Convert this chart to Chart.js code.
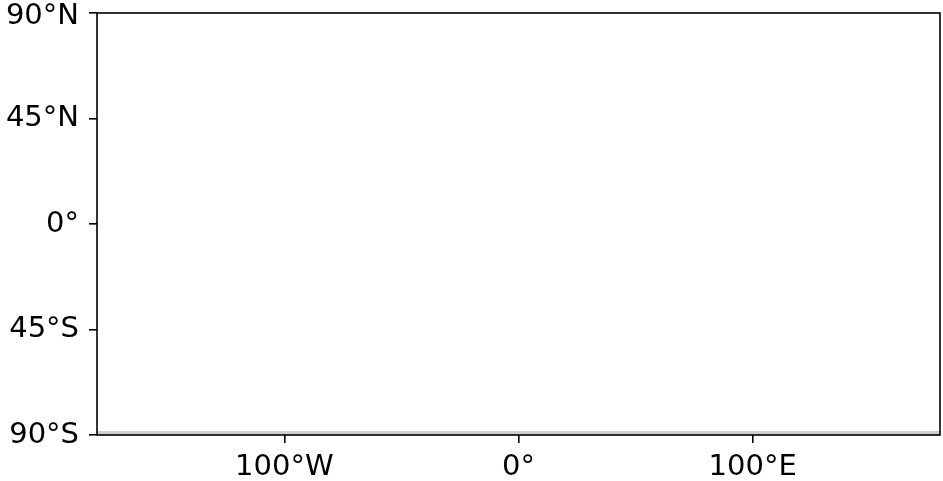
<!DOCTYPE html>
<html><head><meta charset="utf-8">
<script src="https://cdn.jsdelivr.net/npm/chart.js@4/dist/chart.umd.min.js"></script>
<style>html,body{margin:0;padding:0;background:#fff}#wrap{width:943px;height:481px}</style>
</head><body><div id="wrap"><canvas id="c" width="943" height="481"></canvas></div>
<script>
const lonTicks = [-100, 0, 100];
const lonTickLabels = ['100°W', '0°', '100°E'];
const latTicks = [-90, -45, 0, 45, 90];
const latTickLabels = ['90°S', '45°S', '0°', '45°N', '90°N'];
const landLon = [-180, 180];
const landLat = [-88.3, -88.3];

const frame = {
  id: 'frame',
  afterDatasetsDraw(chart) {
    const {ctx, chartArea: a} = chart;
    ctx.save();
    ctx.strokeStyle = '#000';
    ctx.lineWidth = 1.6;
    ctx.strokeRect(a.left, a.top, a.right - a.left, a.bottom - a.top);
    ctx.restore();
  }
};

new Chart(document.getElementById('c'), {
  type: 'scatter',
  data: {
    datasets: [{
      data: landLon.map((x, i) => ({x, y: landLat[i]})),
      showLine: true,
      borderColor: '#c8c8c8',
      borderWidth: 0,
      backgroundColor: '#cfcfcf',
      fill: 'start',
      pointRadius: 0
    }]
  },
  options: {
    responsive: false,
    animation: false,
    events: [],
    layout: {padding: {top: 13, right: 3, left: 0, bottom: 0}},
    plugins: {legend: {display: false}, tooltip: {enabled: false}, filler: {propagate: false}},
    scales: {
      x: {
        type: 'linear', min: -180, max: 180,
        afterBuildTicks(s) { s.ticks = lonTicks.map(v => ({value: v})); },
        afterFit(s) { s.height = 46; s.paddingLeft = 0; s.paddingRight = 0; },
        grid: {drawOnChartArea: false, drawTicks: true, tickLength: 8, color: '#000', lineWidth: 1.6},
        border: {display: false},
        ticks: {
          color: '#000', padding: 7, maxRotation: 0, autoSkip: false,
          font: {family: 'DejaVu Sans', size: 29},
          callback(v) { const i = lonTicks.indexOf(v); return i >= 0 ? lonTickLabels[i] : ''; }
        }
      },
      y: {
        type: 'linear', min: -90, max: 90,
        afterBuildTicks(s) { s.ticks = latTicks.map(v => ({value: v})); },
        afterFit(s) {
          s.width = 97; s.paddingTop = 0; s.paddingBottom = 0;
          if (!s._wrapped) {
            s._wrapped = true;
            const orig = s.getLabelItems.bind(s);
            s.getLabelItems = function (ca) {
              const items = orig(ca);
              items.forEach(it => {
                if (!it._shifted && it.label === latTickLabels[latTickLabels.length - 1]) {
                  it._shifted = true;
                  it.options.translation[1] += 3;
                }
              });
              return items;
            };
          }
        },
        grid: {drawOnChartArea: false, drawTicks: true, tickLength: 8, color: '#000', lineWidth: 1.6},
        border: {display: false},
        ticks: {
          color: '#000', padding: 10, autoSkip: false,
          font: {family: 'DejaVu Sans', size: 29},
          callback(v) { const i = latTicks.indexOf(v); return i >= 0 ? latTickLabels[i] : ''; }
        }
      }
    }
  },
  plugins: [frame]
});
</script></body></html>
